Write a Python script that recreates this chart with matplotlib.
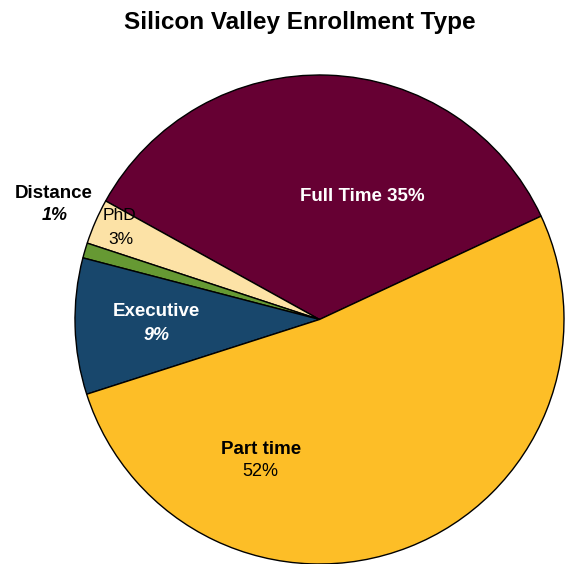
import matplotlib.pyplot as plt

# enrollment shares, in drawing order (counterclockwise from ~25 deg)
labels = ['Full Time', 'PhD', 'Distance', 'Executive', 'Part time']
shares = [35, 3, 1, 9, 52]
colors = ['#660033', '#fce2a6', '#669933', '#18476c', '#fdbe27']

plt.rcParams['font.family'] = ['Liberation Sans', 'DejaVu Sans']

fig = plt.figure(figsize=(5.66, 5.64), dpi=100)
ax = fig.add_axes([75 / 566, 0.0, 489 / 566, 489 / 564])

ax.pie(shares, colors=colors, startangle=25, counterclock=True,
       radius=1.0, wedgeprops=dict(edgecolor='black', linewidth=1.0))
ax.set_xlim(-1, 1)
ax.set_ylim(-1, 1)
ax.set_aspect('equal')
ax.axis('off')

# labels placed in figure pixel coords (from top-left)
def put(x, y, s, **kw):
    fig.text(x / 566, 1 - y / 564, s, ha='center', va='center', **kw)

put(300, 22, 'Silicon Valley Enrollment Type', fontsize=17.5, fontweight='bold')
put(362, 197, f'{labels[0]} {shares[0]}%', fontsize=13.5, fontweight='bold', color='white')
put(156, 311, labels[3], fontsize=13.5, fontweight='bold', color='white')
put(157, 335, f'{shares[3]}%', fontsize=13, fontweight='bold', style='italic', color='white')
put(261, 449, labels[4], fontsize=13.5, fontweight='bold', color='black')
put(260, 472, f'{shares[4]}%', fontsize=13, color='black')
put(120, 216, labels[1], fontsize=12.5, color='black')
put(121, 240, f'{shares[1]}%', fontsize=12.5, color='black')
put(54, 193, labels[2], fontsize=13.5, fontweight='bold', color='black')
put(55, 216, f'{shares[2]}%', fontsize=13, fontweight='bold', style='italic', color='black')

fig.savefig('out.png', dpi=100)
